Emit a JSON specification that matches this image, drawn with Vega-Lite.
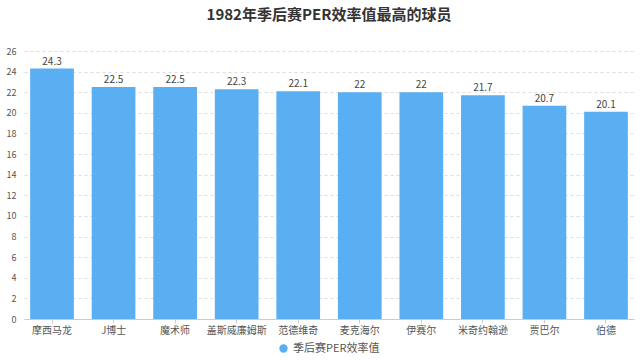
{
  "$schema": "https://vega.github.io/schema/vega-lite/v6.json",
  "width": 640,
  "height": 361,
  "autosize": {"type": "fit", "contains": "padding"},
  "padding": {"left": 6, "right": 6, "top": 8, "bottom": 7},
  "background": "white",
  "config": {
    "font": "Noto Sans CJK SC",
    "view": {"stroke": null},
    "legend": {"layout": {"bottom": {"anchor": "middle"}}}
  },
  "title": {
    "text": "1982年季后赛PER效率值最高的球员",
    "fontSize": 15,
    "fontWeight": "bold",
    "color": "#333333",
    "offset": 24
  },
  "data": {
    "values": [
      {"player": "摩西马龙", "per": 24.3, "series": "季后赛PER效率值"},
      {"player": "J博士", "per": 22.5, "series": "季后赛PER效率值"},
      {"player": "魔术师", "per": 22.5, "series": "季后赛PER效率值"},
      {"player": "盖斯威廉姆斯", "per": 22.3, "series": "季后赛PER效率值"},
      {"player": "范德维奇", "per": 22.1, "series": "季后赛PER效率值"},
      {"player": "麦克海尔", "per": 22, "series": "季后赛PER效率值"},
      {"player": "伊赛尔", "per": 22, "series": "季后赛PER效率值"},
      {"player": "米奇约翰逊", "per": 21.7, "series": "季后赛PER效率值"},
      {"player": "贾巴尔", "per": 20.7, "series": "季后赛PER效率值"},
      {"player": "伯德", "per": 20.1, "series": "季后赛PER效率值"}
    ]
  },
  "encoding": {
    "x": {
      "field": "player",
      "type": "nominal",
      "sort": null,
      "scale": {"paddingInner": 0.29, "paddingOuter": 0.1},
      "axis": {
        "title": null,
        "labelAngle": 0,
        "labelFontSize": 10,
        "labelColor": "#555555",
        "labelPadding": 2,
        "domainColor": "#cccccc",
        "tickColor": "#cccccc",
        "tickSize": 4
      }
    },
    "y": {
      "field": "per",
      "type": "quantitative",
      "scale": {"domain": [0, 26]},
      "axis": {
        "title": null,
        "values": [0, 2, 4, 6, 8, 10, 12, 14, 16, 18, 20, 22, 24, 26],
        "labelFontSize": 9,
        "labelColor": "#555555",
        "domain": false,
        "ticks": false,
        "labelPadding": 8,
        "gridColor": "#dddddd",
        "gridDash": [3, 3]
      }
    }
  },
  "layer": [
    {
      "mark": {"type": "bar", "color": "#5aaef2"},
      "encoding": {
        "color": {
          "field": "series",
          "type": "nominal",
          "scale": {"range": ["#5aaef2"]},
          "legend": {
            "title": null,
            "orient": "bottom",
            "direction": "horizontal",
            "symbolType": "circle",
            "symbolSize": 70,
            "labelFontSize": 11,
            "labelColor": "#555555",
            "offset": 8
          }
        }
      }
    },
    {
      "mark": {"type": "text", "dy": -7, "fontSize": 10, "color": "#444444"},
      "encoding": {"text": {"field": "per", "type": "quantitative"}}
    }
  ]
}
